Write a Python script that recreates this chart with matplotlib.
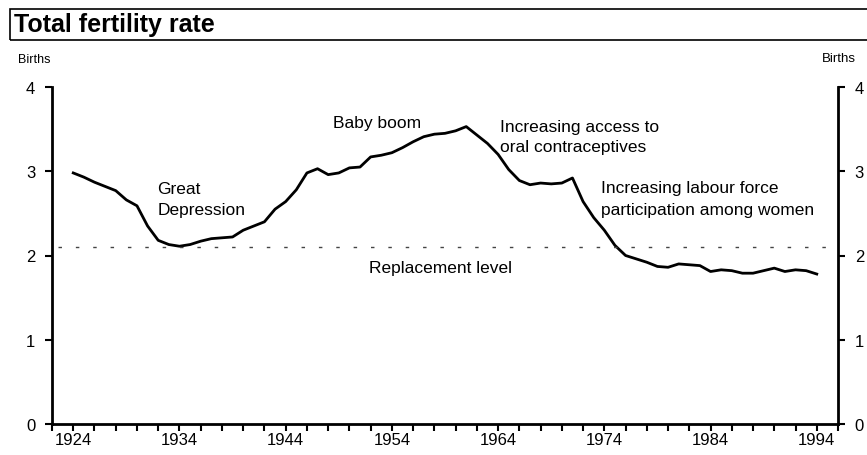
import matplotlib
matplotlib.use("Agg")
import matplotlib.pyplot as plt
from matplotlib.patches import Rectangle
import numpy as np

years = list(range(1924, 1995))
tfr = [2.98, 2.93, 2.87, 2.82, 2.77, 2.66, 2.59, 2.35, 2.18, 2.13,
       2.11, 2.13, 2.17, 2.20, 2.21, 2.22, 2.30, 2.35, 2.40, 2.55,
       2.64, 2.78, 2.98, 3.03, 2.96, 2.98, 3.04, 3.05, 3.17, 3.19,
       3.22, 3.28, 3.35, 3.41, 3.44, 3.45, 3.48, 3.53, 3.43, 3.33,
       3.20, 3.02, 2.89, 2.84, 2.86, 2.85, 2.86, 2.92, 2.64, 2.45,
       2.30, 2.12, 2.00, 1.96, 1.92, 1.87, 1.86, 1.90, 1.89, 1.88,
       1.81, 1.83, 1.82, 1.79, 1.79, 1.82, 1.85, 1.81, 1.83, 1.82,
       1.78]
replacement = 2.1
xtick_labels = [1924, 1934, 1944, 1954, 1964, 1974, 1984, 1994]
yticks = [0, 1, 2, 3, 4]

plt.rcParams['font.family'] = ['Liberation Sans', 'DejaVu Sans']

fig = plt.figure(figsize=(8.67, 4.56), dpi=100)
ax = fig.add_axes([52/867, 1-425/456, (838-52)/867, (425-88)/456])

ax.plot(years, tfr, color='black', lw=2.0, solid_joinstyle='round')
ax.plot([1922.6, 1995.6], [replacement, replacement], color='#444444', lw=1.0,
        linestyle=(0, (2.5, 10)))

ax.set_xlim(1922, 1996)
ax.set_ylim(0, 4)

for s in ['left', 'right', 'bottom']:
    ax.spines[s].set_linewidth(2.0)
ax.spines['top'].set_visible(False)

ax.set_xticks(np.arange(1922, 1997, 2), minor=True)
ax.set_xticks(xtick_labels)
ax.set_xticklabels([str(v) for v in xtick_labels], fontsize=12)
ax.tick_params(axis='x', which='both', direction='out', length=5, width=1.5, pad=1)

ax.set_yticks(yticks)
ax.set_yticklabels([str(v) for v in yticks], fontsize=12)
ax.tick_params(axis='y', direction='out', length=5, width=1.5, pad=7,
               left=True, right=True, labelleft=True, labelright=True)

# annotations
fs = 12.5
ax.text(1931.9, 2.67, "Great\nDepression", fontsize=fs, ha='left', va='center', linespacing=1.55)
ax.text(1948.5, 3.58, "Baby boom", fontsize=fs, ha='left', va='center')
ax.text(1964.2, 3.41, "Increasing access to\noral contraceptives", fontsize=fs,
        ha='left', va='center', linespacing=1.4)
ax.text(1973.7, 2.68, "Increasing labour force\nparticipation among women", fontsize=fs,
        ha='left', va='center', linespacing=1.55)
ax.text(1951.8, 1.86, "Replacement level", fontsize=fs, ha='left', va='center')

# Births labels
fig.text(18/867, 1-60/456, "Births", fontsize=9, ha='left', va='center')
fig.text(822/867, 1-59/456, "Births", fontsize=9.5, ha='left', va='center')

# title box
fig.patches.append(Rectangle((10/867, 1-41/456), 1.0, 31/456, transform=fig.transFigure,
                             fill=False, edgecolor='black', lw=1.2))
fig.text(14/867, 1-25/456, "Total fertility rate", fontsize=18, fontweight='bold',
         ha='left', va='center')

fig.savefig("out.png", dpi=100)
